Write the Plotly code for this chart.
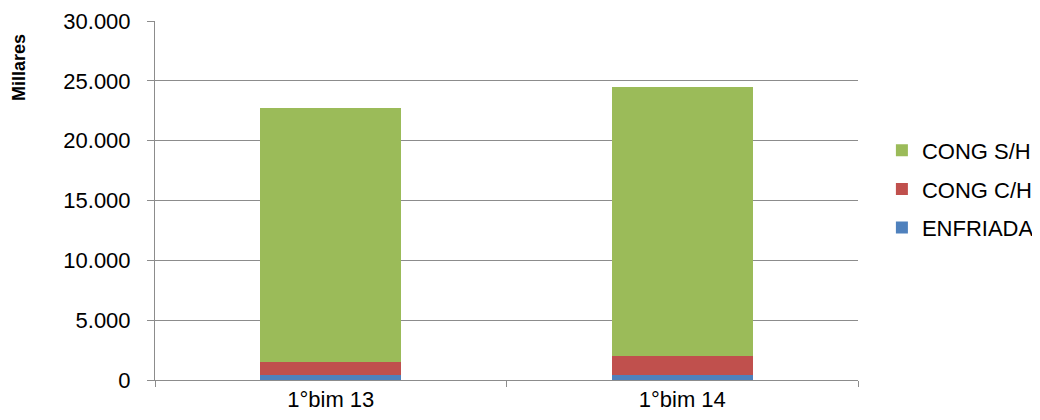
import plotly.graph_objects as go

categories = ["1°bim 13", "1°bim 14"]
enfriada = [380, 420]
cong_ch = [1090, 1610]
cong_sh = [21270, 22470]

series = [
    ("ENFRIADA", enfriada, "#4F81BD", 3),
    ("CONG C/H", cong_ch, "#C0504D", 2),
    ("CONG S/H", cong_sh, "#9BBB59", 1),
]

fig = go.Figure()
for name, vals, color, rank in series:
    fig.add_trace(go.Bar(
        x=categories, y=vals, name=name, marker_color=color,
        marker_line_width=0, legendgroup=name, legendrank=rank,
    ))

fig.update_layout(
    width=1040, height=420,
    barmode="stack", bargap=0.6,
    separators=",.",
    plot_bgcolor="white", paper_bgcolor="white",
    margin=dict(l=147, r=190, t=13, b=48, autoexpand=False),
    font=dict(family="Liberation Sans, Arial, sans-serif", color="#000000"),
    legend=dict(
        x=1.034, y=0.532, xanchor="left", yanchor="middle",
        traceorder="grouped", tracegroupgap=7,
        font=dict(size=22, color="#000000"),
    ),
    showlegend=True,
    annotations=[dict(
        text="<b>Millares</b>", xref="paper", yref="paper",
        x=-0.1935, y=0.872, xanchor="center", yanchor="middle",
        textangle=-90, showarrow=False,
        font=dict(size=18, color="#000000"),
    )],
)
fig.update_yaxes(
    range=[0, 30000], dtick=5000, tickformat=",d",
    showgrid=True, gridcolor="#8c8c8c", gridwidth=1,
    showline=True, linecolor="#8c8c8c", linewidth=1,
    ticks="outside", ticklen=7, tickcolor="#8c8c8c",
    tickfont=dict(size=22), zeroline=False, automargin=False,
    ticklabelstandoff=12,
)
fig.update_xaxes(
    showline=True, linecolor="#8c8c8c", linewidth=1,
    ticks="outside", ticklen=6, tickcolor="#8c8c8c", tickson="boundaries",
    tickfont=dict(size=22), automargin=False,
)

fig.write_html("out.html")
